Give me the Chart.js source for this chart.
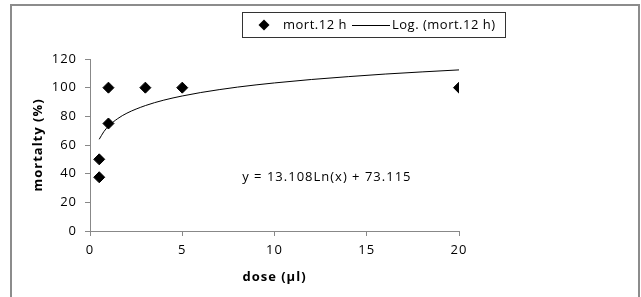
<!DOCTYPE html>
<html>
<head>
<meta charset="utf-8">
<script src="https://cdn.jsdelivr.net/npm/chart.js@4/dist/chart.umd.min.js"></script>
<style>
html,body{margin:0;padding:0;background:#fff;}
#wrap{width:641px;height:297px;position:relative;}
</style>
</head>
<body>
<div id="wrap"><canvas id="c" width="641" height="297"></canvas></div>
<script>
const doseValues = [0.5, 0.5, 1, 1, 3, 5, 20];
const mortalityValues = [37.5, 50, 75, 100, 100, 100, 100];
const trendDose = [0.5, 0.75, 1, 1.5, 2, 3, 4, 5, 6, 8, 10, 12, 14, 16, 18, 20];
const trendMortality = [64.0, 69.3, 73.1, 78.4, 82.2, 87.5, 91.3, 94.2, 96.6, 100.4, 103.3, 105.7, 107.7, 109.5, 111.0, 112.4];
const xTicks = [0, 5, 10, 15, 20];
const yTicks = [0, 20, 40, 60, 80, 100, 120];
const seriesLabels = ['mort.12 h', 'Log. (mort.12 h)'];
const equationText = 'y = 13.108Ln(x) + 73.115';
const equationAt = {x: 8.25, y: 37.5};
const xTitle = 'dose (\u00b5l)';
const yTitle = 'mortalty (%)';

const FONT = '"Open Sans", Lato, sans-serif';
const AXIS = '#888888';

const scatterData = doseValues.map((d, i) => ({x: d, y: mortalityValues[i]}));
const trendData = trendDose.map((d, i) => ({x: d, y: trendMortality[i]}));

const framePlugin = {
  id: 'frame',
  beforeDraw(chart) {
    const ctx = chart.ctx;
    ctx.letterSpacing = '1px';
    ctx.save();
    ctx.fillStyle = '#fff';
    ctx.fillRect(0, 0, chart.width, chart.height);
    ctx.strokeStyle = '#8c8c8c';
    ctx.lineWidth = 2;
    ctx.strokeRect(11, 5, 628, 310);
    ctx.restore();
  },
  afterDraw(chart) {
    const ctx = chart.ctx;
    ctx.save();
    // legend
    ctx.letterSpacing = '0.5px';
    ctx.strokeStyle = '#333';
    ctx.lineWidth = 1;
    ctx.strokeRect(242.5, 12.5, 263, 25);
    const ly = 25;
    ctx.fillStyle = '#000';
    ctx.beginPath();
    ctx.moveTo(264 - 5.5, ly);
    ctx.lineTo(264, ly - 5.5);
    ctx.lineTo(264 + 5.5, ly);
    ctx.lineTo(264, ly + 5.5);
    ctx.closePath();
    ctx.fill();
    ctx.font = '13px ' + FONT;
    ctx.textBaseline = 'middle';
    ctx.textAlign = 'left';
    ctx.fillText(chart.data.datasets[0].label, 283, ly);
    ctx.beginPath();
    ctx.moveTo(352, ly + 0.5);
    ctx.lineTo(390, ly + 0.5);
    ctx.strokeStyle = '#000';
    ctx.stroke();
    ctx.fillText(chart.data.datasets[1].label, 392, ly);
    // equation
    ctx.letterSpacing = '1px';
    const xs = chart.scales.x, ys = chart.scales.y;
    ctx.fillText(equationText, xs.getPixelForValue(equationAt.x), ys.getPixelForValue(equationAt.y));
    ctx.restore();
  }
};

new Chart(document.getElementById('c'), {
  type: 'scatter',
  data: {
    datasets: [
      {
        label: seriesLabels[0],
        data: scatterData,
        pointStyle: 'rectRot',
        pointRadius: 5.5,
        pointBackgroundColor: '#000',
        pointBorderColor: '#000',
        pointBorderWidth: 1,
        showLine: false,
        order: 1
      },
      {
        label: seriesLabels[1],
        data: trendData,
        showLine: true,
        borderColor: '#000',
        borderWidth: 1,
        pointRadius: 0,
        cubicInterpolationMode: 'monotone',
        fill: false,
        order: 2
      }
    ]
  },
  options: {
    responsive: false,
    animation: false,
    devicePixelRatio: 1,
    layout: {padding: {top: 59, right: 182, bottom: 0, left: 0}},
    plugins: {legend: {display: false}, tooltip: {enabled: false}},
    scales: {
      x: {
        type: 'linear',
        min: 0, max: 20,
        afterBuildTicks(s) { s.ticks = xTicks.map(v => ({value: v})); },
        afterFit(s) { s.height = 66; },
        grid: {display: true, drawOnChartArea: false, drawTicks: true, tickLength: 5, color: AXIS, tickColor: AXIS},
        border: {display: true, color: AXIS, width: 1},
        ticks: {color: '#000', font: {family: FONT, size: 13}, padding: 6, maxRotation: 0},
        title: {display: true, text: xTitle, color: '#000', font: {family: FONT, size: 13, weight: 'bold'}, padding: {top: 0, bottom: 12}}
      },
      y: {
        type: 'linear',
        min: 0, max: 120,
        afterBuildTicks(s) { s.ticks = yTicks.map(v => ({value: v})); },
        afterFit(s) { s.width = 90; },
        grid: {display: true, drawOnChartArea: false, drawTicks: true, tickLength: 5, color: AXIS, tickColor: AXIS},
        border: {display: true, color: AXIS, width: 1},
        ticks: {color: '#000', font: {family: FONT, size: 13}, padding: 8},
        title: {display: true, text: yTitle, color: '#000', font: {family: FONT, size: 13, weight: 'bold'}, padding: {top: 30, bottom: 0}}
      }
    }
  },
  plugins: [framePlugin]
});
</script>
</body>
</html>
